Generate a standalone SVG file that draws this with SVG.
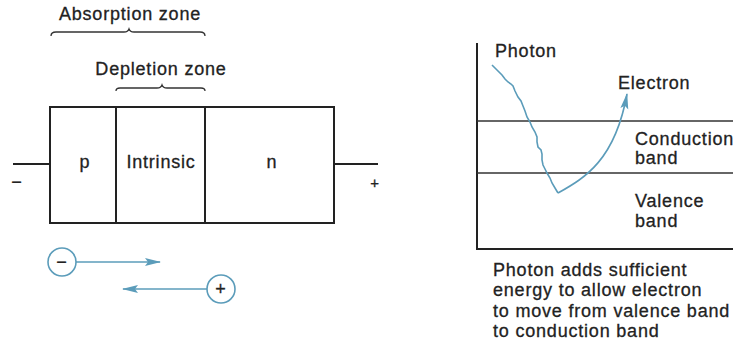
<svg xmlns="http://www.w3.org/2000/svg" width="733" height="347" viewBox="0 0 733 347">
<style>
text{font-family:"Liberation Sans",Arial,sans-serif;font-size:18px;fill:#222;stroke:#222;stroke-width:0.3;letter-spacing:0.8px}
.k{fill:none;stroke:#222;stroke-width:2}
.thin{fill:none;stroke:#333;stroke-width:1.3}
.b{fill:none;stroke:#5b9cba;stroke-width:1.6}
.bc{fill:#fff;stroke:#5b9cba;stroke-width:1.6}
.c{text-anchor:middle}
</style>
<defs>
<marker id="ah" viewBox="0 0 16 10" refX="15" refY="5" markerWidth="16" markerHeight="10" markerUnits="userSpaceOnUse" orient="auto">
<path d="M0,1 L16,5 L0,9 L3,5 Z" fill="#5b9cba"/>
</marker>
</defs>
<g id="labels">
<text class="c" x="130" y="20">Absorption zone</text>
<path class="thin" d="M51,36 Q51,32 56,32 L124,32 Q128,32 129,29 Q130,32 134,32 L200,32 Q205,32 205,36"/>
<text class="c" x="161" y="75">Depletion zone</text>
<path class="thin" d="M116,91 Q116,88 120,88 L157,88 Q161,88 162,85 Q163,88 167,88 L201,88 Q205,88 205,91"/>
</g>
<g id="diode">
<rect class="k" x="50" y="107" width="284" height="116"/>
<line class="k" x1="116" y1="107" x2="116" y2="223"/>
<line class="k" x1="205" y1="107" x2="205" y2="223"/>
<line class="k" x1="13" y1="164" x2="50" y2="164"/>
<line class="k" x1="334" y1="164" x2="378" y2="164"/>
<text class="c" x="17" y="188">−</text>
<text class="c" x="375" y="188" style="font-size:15px">+</text>
<text class="c" x="85" y="168">p</text>
<text class="c" x="161" y="168">Intrinsic</text>
<text class="c" x="272" y="168">n</text>
</g>
<g id="carriers">
<line class="b" x1="76" y1="262" x2="160" y2="262" marker-end="url(#ah)"/>
<circle class="bc" cx="62" cy="262" r="14"/>
<text class="c" x="62" y="268">−</text>
<line class="b" x1="207" y1="289" x2="123" y2="289" marker-end="url(#ah)"/>
<circle class="bc" cx="221" cy="289" r="14"/>
<text class="c" x="221" y="295">+</text>
</g>
<g id="bands">
<polyline class="k" points="477,43 477,249 733,249"/>
<line class="thin" x1="477" y1="121" x2="733" y2="121"/>
<line class="thin" x1="477" y1="173" x2="733" y2="173"/>
<text x="495" y="57">Photon</text>
<text x="618" y="89">Electron</text>
<text x="635" y="145">Conduction</text>
<text x="635" y="164">band</text>
<text x="635" y="207">Valence</text>
<text x="635" y="227">band</text>
</g>
<g id="connectors">
<polyline class="b" points="492,65 497,70 502,75 505,79 508,82 511,84 513,86 515,91 518,97 521,101 523,106 525,111 527,117 530,122 532,127 535,132 537,137 537,142 538,147 541,150 542,154 542,160 543,165 545,169 547,173 550,178 552,183 555,188 558,193"/>
<path class="b" d="M558,193 C585,178 615,160 627,94" marker-end="url(#ah)"/>
</g>
<g id="caption">
<text x="493" y="276">Photon adds sufficient</text>
<text x="493" y="296">energy to allow electron</text>
<text x="493" y="317">to move from valence band</text>
<text x="493" y="337">to conduction band</text>
</g>
</svg>
